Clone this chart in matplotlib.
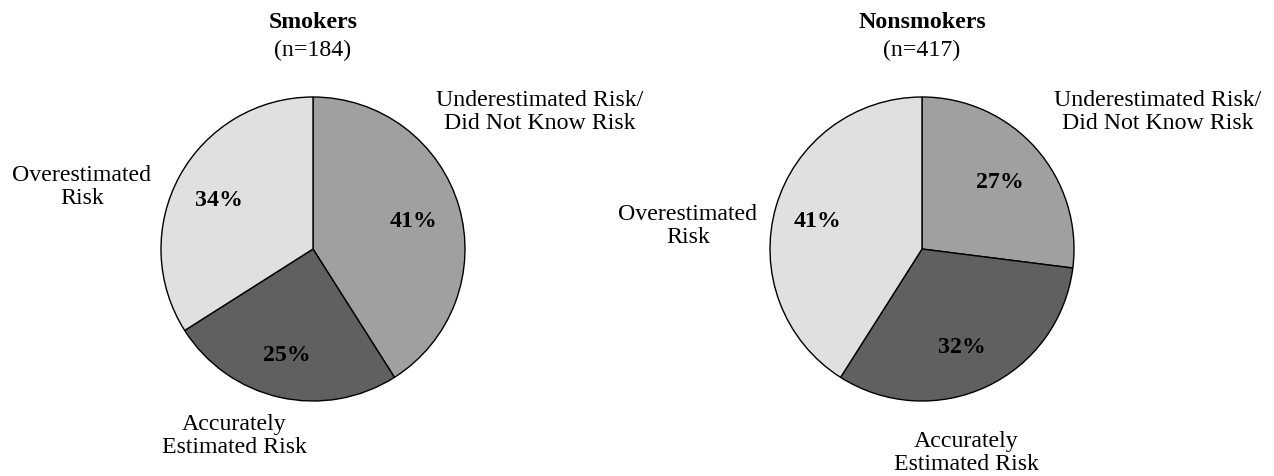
import matplotlib.pyplot as plt

plt.rcParams['font.family'] = ['Liberation Serif', 'DejaVu Serif']

groups = ['Smokers', 'Nonsmokers']
group_n = [184, 417]
categories = ['Underestimated Risk/\nDid Not Know Risk', 'Accurately\nEstimated Risk', 'Overestimated\nRisk']
smokers_pct = [41, 25, 34]
nonsmokers_pct = [27, 32, 41]
colors = ['#a0a0a0', '#606060', '#e0e0e0']

# layout in pixel units
W, H = 1274, 476
R = 152
FS = 17.2
centers = [(313, H - 249), (922, H - 249)]
# percent label and category label positions (in radius units from center)
pct_pos = [
    [(0.66, 0.18), (-0.17, -0.70), (-0.62, 0.32)],
    [(0.51, 0.44), (0.26, -0.65), (-0.69, 0.18)],
]
cat_pos = [
    [(1.49, 0.90), (-0.52, -1.23), (-1.52, 0.41)],
    [(1.55, 0.90), (0.29, -1.34), (-1.54, 0.15)],
]

fig = plt.figure(figsize=(W / 100, H / 100), dpi=100)
ax = fig.add_axes([0, 0, 1, 1])

for i, vals in enumerate([smokers_pct, nonsmokers_pct]):
    cx, cy = centers[i]
    ax.pie(vals, colors=colors, startangle=90, counterclock=False,
           center=(cx, cy), radius=R, frame=True,
           wedgeprops={'edgecolor': 'black', 'linewidth': 1.0})
    for (dx, dy), v in zip(pct_pos[i], vals):
        ax.text(cx + dx * R, cy + dy * R, str(v) + '%', ha='center', va='center',
                fontsize=FS, fontweight='bold')
    for (dx, dy), c in zip(cat_pos[i], categories):
        ax.text(cx + dx * R, cy + dy * R, c, ha='center', va='center',
                fontsize=FS, linespacing=1.12)
    ax.text(cx, H - 23, groups[i], ha='center', va='center', fontsize=FS, fontweight='bold')
    ax.text(cx, H - 50, '(n=' + str(group_n[i]) + ')', ha='center', va='center', fontsize=FS)

ax.set_xlim(0, W)
ax.set_ylim(0, H)
ax.set_aspect('equal')
ax.axis('off')

plt.savefig('out.png', dpi=100)
